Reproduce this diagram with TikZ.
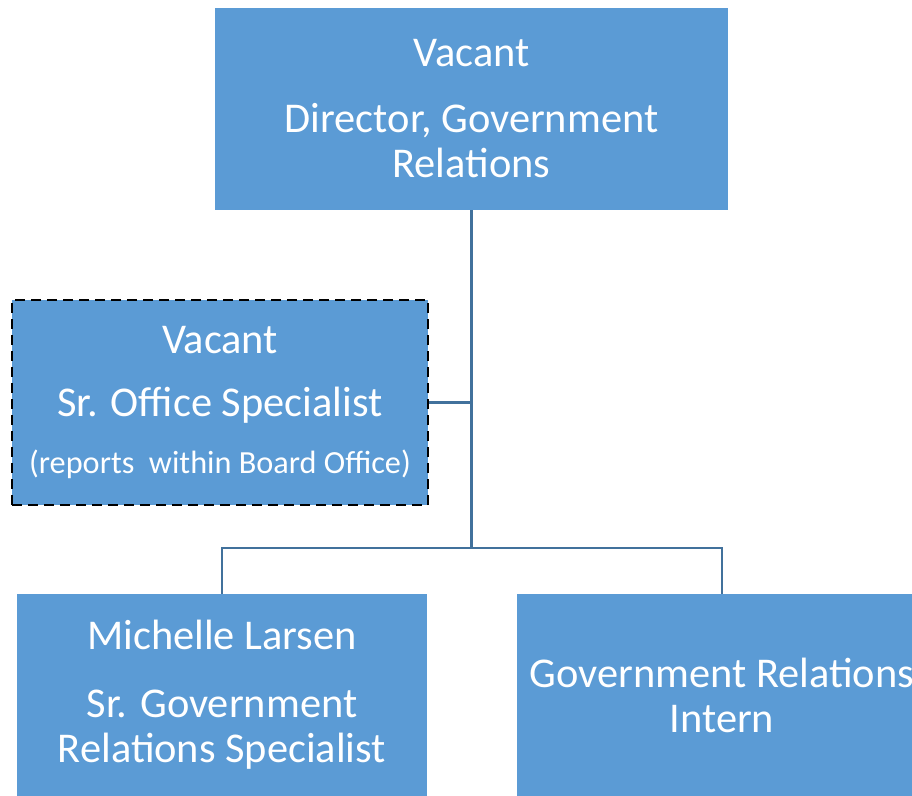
\documentclass[tikz,border=0pt]{standalone}
\usepackage{fontspec}
\setmainfont{Carlito}
\usetikzlibrary{positioning}
\definecolor{boxblue}{HTML}{5B9BD5}
\definecolor{lineblue}{HTML}{41719C}
\tikzstyle{post} = [rectangle, fill=boxblue, text=white, align=center, inner sep=0pt, font=\fontsize{31.8}{33.75}\selectfont]
\tikzstyle{link} = [draw=lineblue, line width=2.2pt]
\newcommand{\smalltxt}{\fontsize{24.2}{26}\selectfont}

\begin{document}
\begin{tikzpicture}[x=0.75pt, y=-0.75pt]
\clip (0,0) rectangle (912,795);
\useasboundingbox (0,0) rectangle (912,795);

\node (director) [post, minimum width=513*0.75pt, minimum height=202*0.75pt] at (471.5,109) {Vacant\\[15.75pt]Director, Government\\Relations};
\node (assistant) [post, draw=black, dash pattern=on 7.5pt off 4.5pt, line width=2pt, minimum width=416*0.75pt, minimum height=205*0.75pt] at (220,402.5) {Vacant\\[13.25pt]Sr. Office Specialist\\[9pt]{\smalltxt (reports\ \ within Board Office)}};
\node (larsen) [post, minimum width=410*0.75pt, minimum height=202*0.75pt] at (222,695) {Michelle Larsen\\[17.25pt]Sr. Government\\Relations Specialist};
\node (intern) [post, minimum width=410*0.75pt, minimum height=202*0.75pt] at (722,695) {Government Relations\\Intern};

\coordinate (bus) at (471.5,548);

\draw [link] (director.south) -- (bus);
\draw [link] (assistant.east) -- (assistant.east -| bus);
\draw [link] (larsen.north) |- (bus) -| (intern.north);

\end{tikzpicture}
\end{document}
